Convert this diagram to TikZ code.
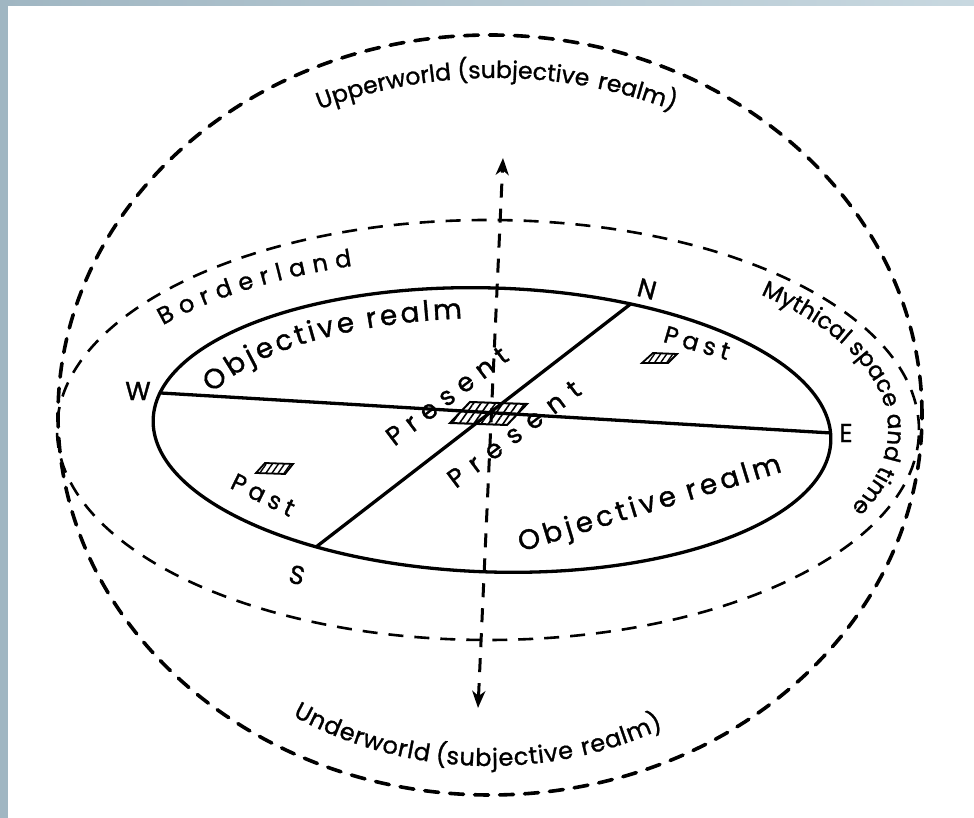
\documentclass[tikz,border=0pt]{standalone}
\usepackage{fontspec}
\setmainfont{Poppins}
\newfontfamily\fUp{Poppins}[FakeBold=1.2]
\newfontfamily\fObj{Poppins}[LetterSpace=14,FakeBold=1.2]
\newfontfamily\fObjC{Poppins}[FakeBold=1.2]
\newfontfamily\fPres{Poppins}[LetterSpace=31,FakeBold=1.2]
\newfontfamily\fPresB{Poppins}[LetterSpace=40,FakeBold=1.2]
\newfontfamily\fPast{Poppins}[LetterSpace=22,FakeBold=1.2]
\newfontfamily\fDir{Poppins}[FakeBold=1.2]
\newcommand\kb{\kern7.4pt}
\newcommand\ko{\kern3.2pt}
\newcommand\kw{\kern9pt}
\newcommand\ku{\kern0.7pt}
\usetikzlibrary{calc,decorations.text,arrows.meta,patterns.meta}
\definecolor{bgA}{RGB}{160,182,194}
\definecolor{bgB}{RGB}{200,216,224}
\begin{document}
\begin{tikzpicture}[x=1pt,y=1pt,
  outerdash/.style={line width=3.6pt, dash pattern=on 14pt off 11pt, line cap=round},
  middash/.style={line width=2.6pt, dash pattern=on 15pt off 11pt},
  solidline/.style={line width=3.3pt},
  axisdash/.style={line width=3pt, dash pattern=on 14pt off 11pt},
  hatchbox/.style={line width=2pt, preaction={fill=white},
    pattern={Lines[angle=55,distance=6pt,line width=1.6pt]}},
  smallhatch/.style={hatchbox, line width=1.8pt, pattern={Lines[angle=55,distance=5pt,line width=1.4pt]}},
  dirlabel/.style={font=\fDir\fontsize{26}{30}\selectfont, inner sep=0pt},
  preslabel/.style={font=\fPres\fontsize{26}{30}\selectfont, inner sep=0pt, rotate=37},
  pastlabel/.style={font=\fPast\fontsize{24}{28}\selectfont, inner sep=0pt},
  objlabel/.style={font=\fObj\fontsize{28}{32}\selectfont, inner sep=0pt}
]
\useasboundingbox (0,0) rectangle (974,818);
% background
\shade[left color=bgA, right color=bgB] (0,0) rectangle (974,818);
\fill[white] (8,0) rectangle (974,812);

% outer sphere and horizon
\draw[outerdash] (490,403) ellipse [x radius=432pt, y radius=380pt];
\draw[middash] (488,388) ellipse [x radius=431pt, y radius=210pt];

% central hatched box (under the lines)
\draw[hatchbox] (470,416) -- (527,414) -- (507,393) -- (450,395) -- cycle;
% small hatched boxes
\draw[smallhatch] (653,465) -- (677,464) -- (668,455) -- (642,455) -- cycle;
\draw[smallhatch] (265,355) -- (293,354) -- (285,344) -- (256,345) -- cycle;

% inner objective realm
\begin{scope}[shift={(492,388)}, rotate=-1.8]
  \draw[solidline] (0,0) ellipse [x radius=339pt, y radius=142pt];
  \coordinate (W) at (169.2:339pt and 142pt);
  \coordinate (E) at (3.1:339pt and 142pt);
  \coordinate (N) at (66.6:339pt and 142pt);
  \coordinate (S) at (-120.5:339pt and 142pt);
\end{scope}
\draw[solidline] (W) -- (E);
\draw[solidline] (N) -- (S);

% vertical axis
\coordinate (atop) at (503,660);
\coordinate (abot) at (478,110);
\draw[axisdash, {Stealth[length=17pt,width=13pt,inset=5pt]}-{Stealth[length=17pt,width=13pt,inset=5pt]}] (abot) -- (atop);

% curved labels
\path[decorate, decoration={text along path,
  text={|\fUp\fontsize{23.5}{27}\selectfont|Upperworld (subjective{\kw}realm)}}]
  ($(495,403)+(115:415pt and 337pt)$) arc[start angle=115, end angle=50, x radius=415pt, y radius=337pt];
\path[decorate, decoration={text along path,
  text={|\fUp\fontsize{24}{28}\selectfont|U{\ku}n{\ku}d{\ku}e{\ku}r{\ku}w{\ku}o{\ku}r{\ku}l{\ku}d (s{\ku}u{\ku}b{\ku}j{\ku}e{\ku}c{\ku}t{\ku}i{\ku}v{\ku}e{\kw}r{\ku}e{\ku}a{\ku}l{\ku}m{\ku})}}]
  ($(490,403)+(239:383pt and 351pt)$) arc[start angle=239, end angle=312, x radius=383pt, y radius=351pt];
\path[decorate, decoration={text along path,
  text={|\fUp\fontsize{24}{28}\selectfont|B{\kb}o{\kb}r{\kb}d{\kb}e{\kb}r{\kb}l{\kb}a{\kb}n{\kb}d}}]
  ($(488,388)+(143:407pt and 174pt)$) arc[start angle=143, end angle=90, x radius=407pt, y radius=174pt];
\path[decorate, decoration={text along path,
  text={|\fUp\fontsize{23}{27}\selectfont|Mythical space and time}}]
  ($(488,388)+(47:400pt and 185pt)$) arc[start angle=47, end angle=-50, x radius=400pt, y radius=185pt];
\path[decorate, decoration={text along path,
  text={|\fObjC\fontsize{28}{32}\selectfont|O{\ko}b{\ko}j{\ko}e{\ko}c{\ko}t{\ko}i{\ko}v{\ko}e{\ko}{\kw}r{\ko}e{\ko}a{\ko}l{\ko}m}}]
  ($(492,388)+(161:295pt and 112pt)$) arc[start angle=161, end angle=75, x radius=295pt, y radius=112pt];

% straight labels
\node[objlabel, rotate=17] (obj2) at (650,313) {Objective realm};
\node[preslabel] (pres1) at (447,422) {Present};
\node[preslabel, font=\fPresB\fontsize{26}{30}\selectfont] (pres2) at (514,384) {Present};
\node[pastlabel, rotate=-16] (past1) at (697,475) {Past};
\node[pastlabel, rotate=-26] (past2) at (263,323) {Past};

% compass letters
\node[dirlabel] (lW) at (138,427) {W};
\node[dirlabel, rotate=-15] (lN) at (647,529) {N};
\node[dirlabel] (lE) at (846,385) {E};
\node[dirlabel, rotate=-15] (lS) at (297,243) {S};
\end{tikzpicture}
\end{document}
